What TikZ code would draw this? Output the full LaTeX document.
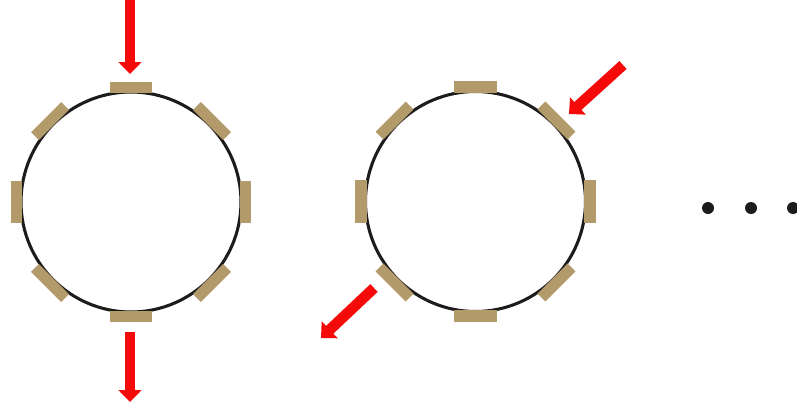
\documentclass[tikz,border=0pt]{standalone}
\usetikzlibrary{arrows.meta,calc}
\definecolor{padtan}{HTML}{B39A6B}
\definecolor{ringdark}{HTML}{1C1C1C}
\definecolor{arrowred}{HTML}{F50A0A}
\tikzset{
  ring/.style={circle, draw=ringdark, line width=2.3pt, minimum size=165pt, inner sep=0pt},
  pad/.style={rectangle, fill=padtan, minimum width=32pt, minimum height=8.3pt, inner sep=0pt},
  redarrow/.style={draw=arrowred, line width=8pt, -{Triangle[width=17pt,length=9pt]}},
  dotmark/.style={circle, fill=ringdark, minimum size=9pt, inner sep=0pt}
}
\begin{document}
\begin{tikzpicture}[x=0.75pt,y=-0.75pt]
\useasboundingbox (0,0) rectangle (797,404);
% rings
\node[ring] (ringA) at (131,202) {};
\node[ring] (ringB) at (475.5,201.5) {};
% pads
\foreach \a in {0,45,...,315}{
  \node[pad, rotate={90-\a}] (padA\a) at ($(ringA.center)+(\a:114.5)$) {};
  \node[pad, rotate={90-\a}] (padB\a) at ($(ringB.center)+(\a:114.5)$) {};
}
% arrows
\coordinate (a1s) at (130,0);
\coordinate (a1e) at (130,74);
\coordinate (a2s) at (130,332);
\coordinate (a2e) at (130,402);
\coordinate (b1s) at (623,65);
\coordinate (b1e) at (569,114);
\coordinate (b2s) at (374,288);
\coordinate (b2e) at (321,338);
\draw[redarrow] (a1s) -- (a1e);
\draw[redarrow] (a2s) -- (a2e);
\draw[redarrow] (b1s) -- (b1e);
\draw[redarrow] (b2s) -- (b2e);
% dots
\node[dotmark] (d1) at (708,208) {};
\node[dotmark] (d2) at (751,208) {};
\node[dotmark] (d3) at (793,208) {};
\end{tikzpicture}
\end{document}
